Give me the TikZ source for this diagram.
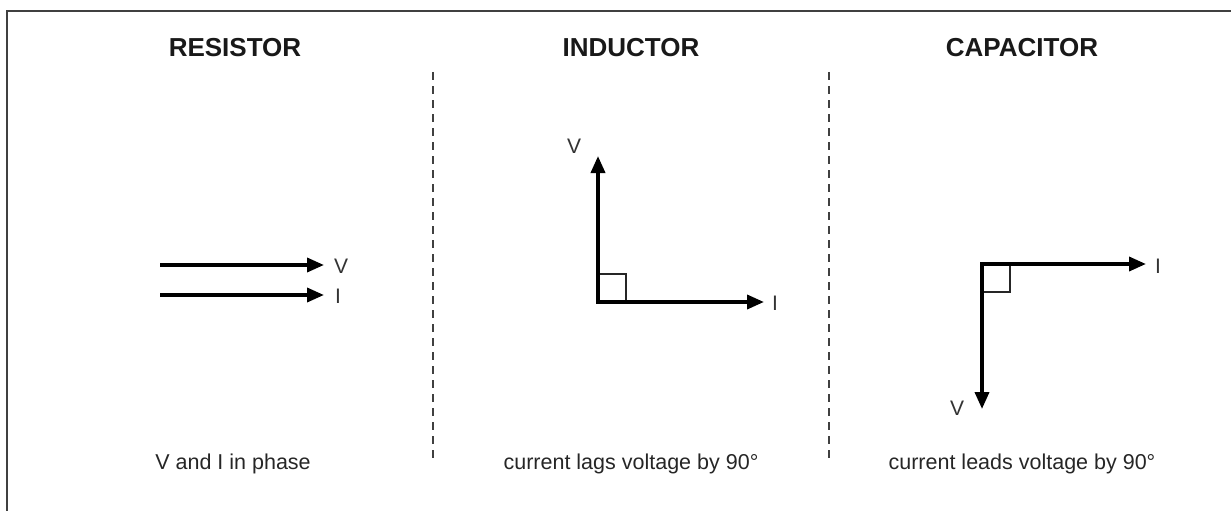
\documentclass[tikz,border=0pt]{standalone}
\usepackage{fontspec}
\setmainfont{Liberation Sans}
\usetikzlibrary{arrows.meta}
\begin{document}
\begin{tikzpicture}[x=1pt,y=-1pt,
  title/.style={font=\fontsize{26}{30}\selectfont\bfseries, text=black!90},
  lbl/.style={font=\fontsize{21}{24}\selectfont, text=black!80},
  captext/.style={font=\fontsize{21.5}{25}\selectfont, text=black!85},
  vec/.style={line width=3.6pt, -{Triangle[length=17pt,width=14pt]}, shorten >=0pt},
  sep/.style={dashed, dash pattern=on 8pt off 6pt, line width=1.3pt, black!75},
  rt/.style={line width=1.3pt, black!85},
  frame/.style={line width=2pt, black!75}]
\useasboundingbox (0,0) rectangle (1231,511);
\begin{scope}
\clip (0,0) rectangle (1231,511);
\draw[frame] (7,11) rectangle (1250,530);
\end{scope}
% titles
\node[title] (tR) at (235,48) {RESISTOR};
\node[title] (tL) at (631,48) {INDUCTOR};
\node[title] (tC) at (1022,48) {CAPACITOR};
% separators
\coordinate (s1a) at (433,72); \coordinate (s1b) at (433,462);
\coordinate (s2a) at (829,72); \coordinate (s2b) at (829,462);
\draw[sep] (s1a) -- (s1b);
\draw[sep] (s2a) -- (s2b);
% resistor
\coordinate (rV0) at (160,265); \coordinate (rV1) at (324,265);
\coordinate (rI0) at (160,295); \coordinate (rI1) at (324,295);
\draw[vec] (rV0) -- (rV1);
\draw[vec] (rI0) -- (rI1);
\node[lbl] (rVl) at (341,266) {V};
\node[lbl] (rIl) at (338,296) {I};
% inductor
\coordinate (lO) at (598,302);
\coordinate (lV) at (598,156); \coordinate (lI) at (764,302);
\draw[rt] (lO) rectangle ++(28,-28);
\draw[vec] ([yshift=1.8pt]lO) -- (lV);
\draw[vec] ([xshift=-1.8pt]lO) -- (lI);
\node[lbl] (lVl) at (574,146) {V};
\node[lbl] (lIl) at (775,303) {I};
% capacitor
\coordinate (cO) at (982,264);
\coordinate (cI) at (1146,264); \coordinate (cV) at (982,409);
\draw[rt] (cO) rectangle ++(28,28);
\draw[vec] ([xshift=-1.8pt]cO) -- (cI);
\draw[vec] ([yshift=-1.8pt]cO) -- (cV);
\node[lbl] (cIl) at (1158,266) {I};
\node[lbl] (cVl) at (957,408) {V};
% captions
\node[captext] (kR) at (233,464) {V and I in phase};
\node[captext] (kL) at (631,464) {current lags voltage by 90°};
\node[captext] (kC) at (1022,464) {current leads voltage by 90°};
\end{tikzpicture}
\end{document}
